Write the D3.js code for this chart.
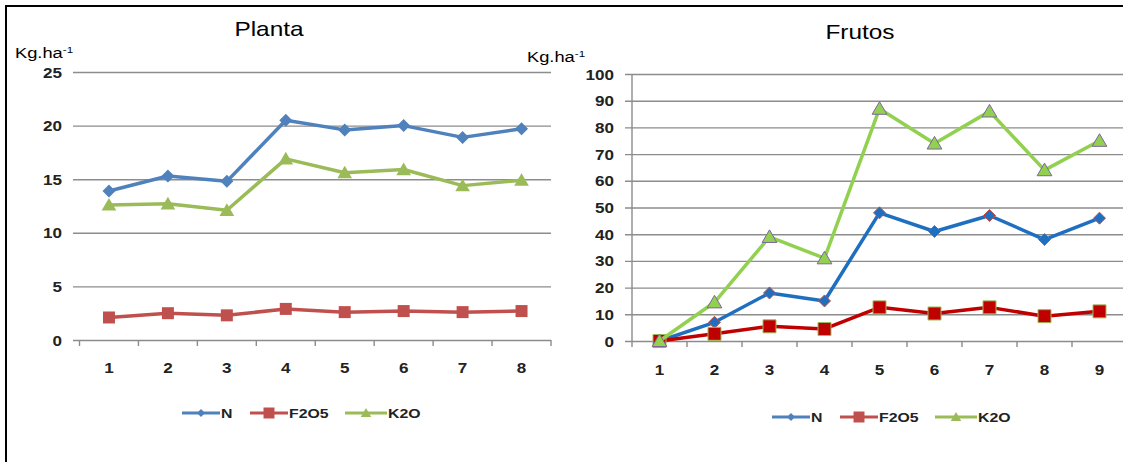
<!DOCTYPE html>
<html><head><meta charset="utf-8">
<script src="https://cdn.jsdelivr.net/npm/d3@7"></script>
<style>
body{margin:0;background:#fff}
svg{display:block}
text{font-family:"Liberation Sans",Arial,sans-serif}
</style>
</head><body>
<svg id="c" width="1123" height="462"></svg>
<script>
// ---------- data ----------
const plantaCats = [1, 2, 3, 4, 5, 6, 7, 8];
const plantaN    = [13.9, 15.3, 14.8, 20.5, 19.6, 20.0, 18.9, 19.7];
const plantaP2O5 = [2.1, 2.5, 2.3, 2.9, 2.6, 2.7, 2.6, 2.7];
const plantaK2O  = [12.6, 12.7, 12.1, 16.9, 15.6, 15.9, 14.4, 14.9];
const plantaYTicks = [0, 5, 10, 15, 20, 25];

const frutosCats = [1, 2, 3, 4, 5, 6, 7, 8, 9];
const frutosN    = [0, 7, 18, 15, 48, 41, 47, 38, 46];
const frutosP2O5 = [0, 2.7, 5.5, 4.5, 12.6, 10.3, 12.6, 9.3, 11.1];
const frutosK2O  = [0, 14.5, 39, 31, 87, 74, 86, 64, 75];
const frutosYTicks = [0, 10, 20, 30, 40, 50, 60, 70, 80, 90, 100];

const seriesNames = ["N", "F2O5", "K2O"];
const chartTitles = ["Planta", "Frutos"];
const unitBase = "Kg.ha";
const unitSup = "-1";

// ---------- helpers ----------
const SX = 1.22; // horizontal text stretch seen in the reference
const svg = d3.select("#c");

function stext(g, x, y, str, size, anchor, fill, weight) {
  return g.append("text")
    .attr("transform", `translate(${x},${y}) scale(${SX},1)`)
    .attr("font-size", size)
    .attr("font-weight", weight || "normal")
    .attr("text-anchor", anchor || "start")
    .attr("fill", fill || "#111")
    .text(str);
}

function markerPath(type, r) {
  if (type === "diamond") return `M0,${-r}L${r},0L0,${r}L${-r},0Z`;
  if (type === "square") return `M${-r},${-r}H${r}V${r}H${-r}Z`;
  return `M0,${-r}L${r*1.05},${r*0.8}L${-r*1.05},${r*0.8}Z`;
}

// frame
svg.append("line").attr("x1", 6).attr("x2", 6).attr("y1", 5).attr("y2", 462)
  .attr("stroke", "#000").attr("stroke-width", 2);
svg.append("line").attr("x1", 5).attr("x2", 1123).attr("y1", 6).attr("y2", 6)
  .attr("stroke", "#000").attr("stroke-width", 2);

const legendDefault = [
  {color: "#4F81BD", marker: "diamond", r: 4},
  {color: "#C0504D", marker: "square", r: 5.5},
  {color: "#9BBB59", marker: "triangle", r: 5}
];

function drawPanel(cfg) {
  const g = svg.append("g");
  const x = d3.scaleBand().domain(cfg.cats).range([cfg.x0, cfg.x1]);
  const y = d3.scaleLinear().domain([0, d3.max(cfg.yTicks)]).range([cfg.yBot, cfg.yTop]);
  const cx = c => x(c) + x.bandwidth() / 2;

  // y axis with gridlines
  const ya = g.append("g")
    .attr("transform", `translate(${cfg.gridStart},0)`)
    .call(d3.axisLeft(y).tickValues(cfg.yTicks).tickSize(-(cfg.x1 - cfg.gridStart)).tickPadding(0));
  ya.select(".domain").remove();
  ya.selectAll(".tick line").attr("stroke", "#8c8c8c").attr("stroke-width", 1.4);
  ya.selectAll(".tick text")
    .attr("x", null).attr("dy", "0.36em")
    .attr("transform", `translate(${cfg.labelRight - cfg.gridStart},0) scale(${SX},1)`)
    .attr("font-size", 14).attr("font-weight", "bold").attr("fill", "#222").attr("font-family", null)
    .attr("text-anchor", "end");

  if (cfg.axisLine) {
    g.append("line").attr("x1", cfg.x0).attr("x2", cfg.x0)
      .attr("y1", y(d3.max(cfg.yTicks))).attr("y2", cfg.yBot)
      .attr("stroke", "#8c8c8c").attr("stroke-width", 1.4);
  }

  // x axis: tick marks at band boundaries, labels at centers
  const xa = g.append("g")
    .attr("transform", `translate(0,${cfg.yBot})`)
    .call(d3.axisBottom(x).tickSize(0).tickPadding(0));
  xa.select(".domain").remove();
  xa.selectAll(".tick text")
    .attr("y", null).attr("dy", "0.36em")
    .attr("transform", `translate(0,${cfg.xLabOff}) scale(${SX},1)`)
    .attr("font-size", 14).attr("font-weight", "bold").attr("fill", "#222").attr("font-family", null);
  const bounds = cfg.cats.map(c => x(c)).concat([x.range()[1]]);
  g.append("g").selectAll("line").data(bounds).join("line")
    .attr("x1", d => d).attr("x2", d => d)
    .attr("y1", cfg.yBot).attr("y2", cfg.yBot + 6)
    .attr("stroke", "#8c8c8c").attr("stroke-width", 1.4);

  // series
  const line = d3.line().x(d => cx(d.c)).y(d => y(d.v));
  cfg.series.forEach((s, i) => {
    const pts = cfg.cats.map((c, j) => ({c, v: s.values[j]}));
    g.append("path").datum(pts).attr("d", line)
      .attr("fill", "none").attr("stroke", s.color).attr("stroke-width", s.lw)
      .attr("stroke-linejoin", "round");
    g.append("g").selectAll("path").data(pts).join("path")
      .attr("transform", d => `translate(${cx(d.c)},${y(d.v)})`)
      .attr("d", markerPath(s.marker, s.r))
      .attr("fill", s.fill)
      .attr("stroke", s.mstroke || "none").attr("stroke-width", s.mstroke ? 1 : 0);
  });

  // title and unit
  stext(g, cfg.titleX, cfg.titleY, cfg.title, 20, "middle", "#000");
  const u = stext(g, cfg.unitX, cfg.unitY, unitBase, 15, "start", "#000");
  u.append("tspan").attr("dy", -5).attr("font-size", 9.5).text(unitSup);

  // legend
  cfg.legend.forEach((item, i) => {
    const L = legendDefault[i];
    g.append("line").attr("x1", item.x1).attr("x2", item.x2)
      .attr("y1", cfg.legendY).attr("y2", cfg.legendY)
      .attr("stroke", L.color).attr("stroke-width", 2.8);
    g.append("path").attr("transform", `translate(${(item.x1 + item.x2) / 2},${cfg.legendY})`)
      .attr("d", markerPath(L.marker, L.r)).attr("fill", L.color);
    stext(g, item.x2 + 1, cfg.legendY, seriesNames[i], 13, "start", "#222", "bold").attr("dy", "0.36em");
  });
}

drawPanel({
  cats: plantaCats, yTicks: plantaYTicks,
  x0: 79.5, x1: 551, yTop: 72, yBot: 340, gridStart: 73, axisLine: false,
  labelRight: 62, xLabOff: 28,
  title: chartTitles[0], titleX: 269, titleY: 36, unitX: 15, unitY: 58,
  legendY: 413,
  legend: [{x1: 182, x2: 220}, {x1: 250, x2: 288}, {x1: 345, x2: 387}],
  series: [
    {values: plantaN, color: "#4F81BD", fill: "#4F81BD", marker: "diamond", r: 6.5, lw: 3.5},
    {values: plantaP2O5, color: "#C0504D", fill: "#C0504D", marker: "square", r: 6, lw: 3.5},
    {values: plantaK2O, color: "#9BBB59", fill: "#9BBB59", marker: "triangle", r: 7, lw: 3.5}
  ]
});

drawPanel({
  cats: frutosCats, yTicks: frutosYTicks,
  x0: 632, x1: 1127, yTop: 74, yBot: 341, gridStart: 625, axisLine: true,
  labelRight: 614, xLabOff: 29,
  title: chartTitles[1], titleX: 860, titleY: 39, unitX: 527, unitY: 62,
  legendY: 417,
  legend: [{x1: 772, x2: 810}, {x1: 840, x2: 878}, {x1: 935, x2: 977}],
  series: [
    {values: frutosN, color: "#1F6FC0", fill: "#1F6FC0", marker: "diamond", r: 6, lw: 3.5, mstroke: "#C0504D"},
    {values: frutosP2O5, color: "#C00000", fill: "#C00000", marker: "square", r: 6.5, lw: 3.5, mstroke: "#9BBB59"},
    {values: frutosK2O, color: "#92D050", fill: "#92D050", marker: "triangle", r: 7, lw: 3.5, mstroke: "#8064A2"}
  ]
});
</script>
</body></html>
